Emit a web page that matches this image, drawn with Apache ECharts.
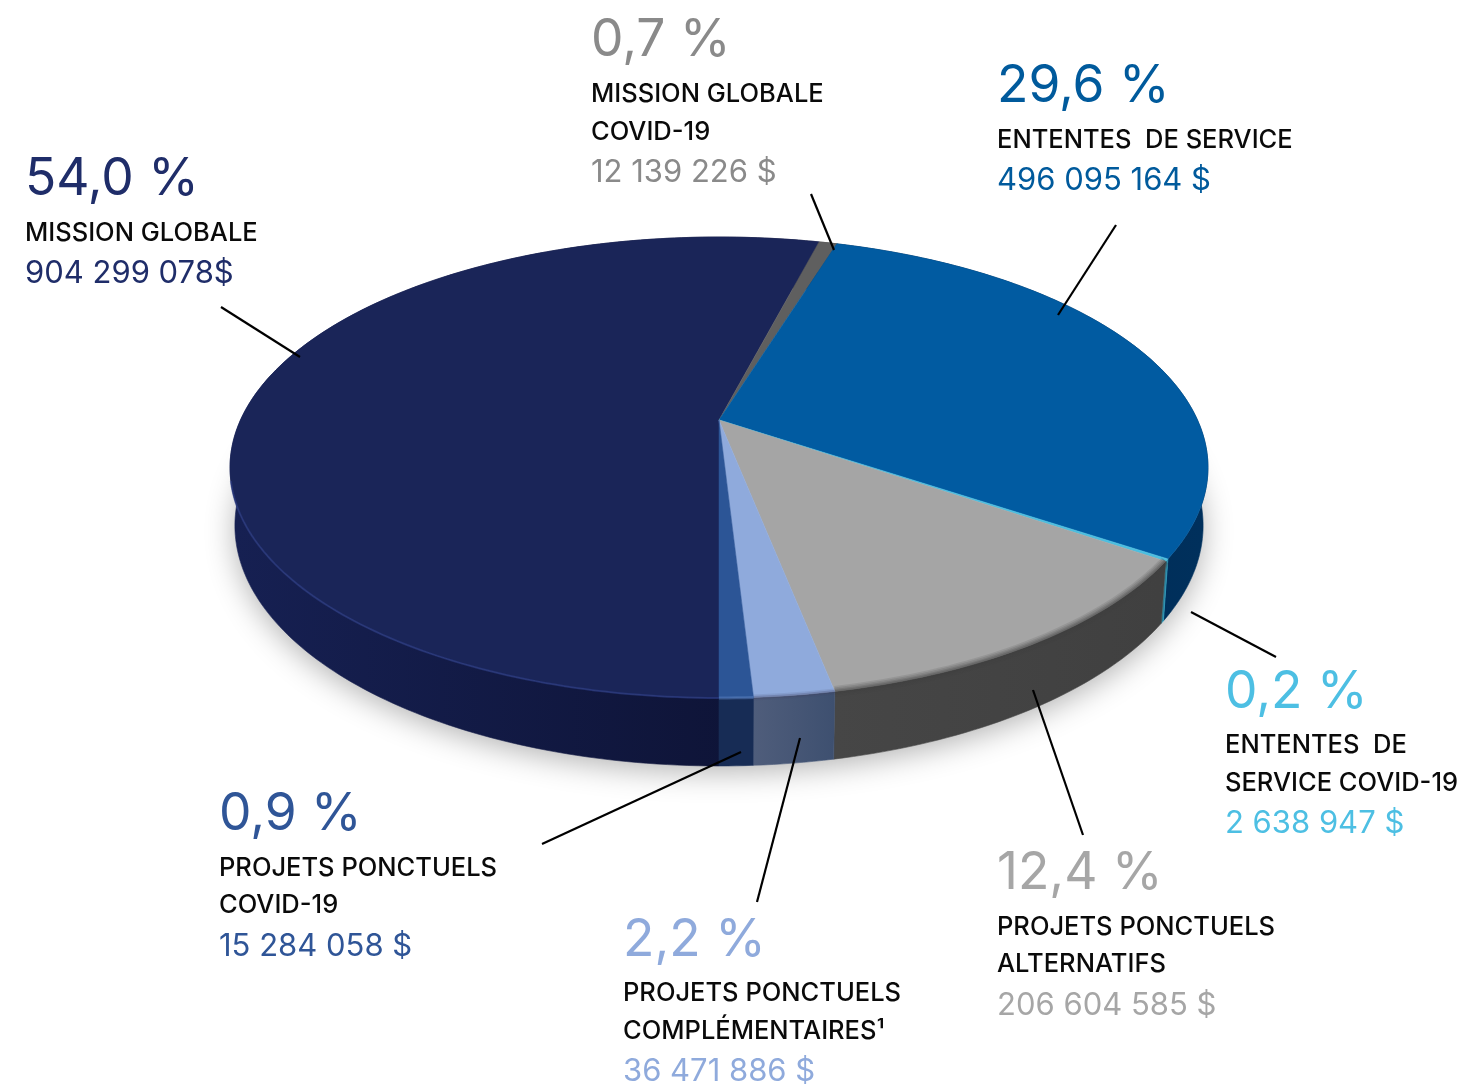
<!DOCTYPE html>
<html><head><meta charset="utf-8">
<style>html,body{margin:0;padding:0;background:#fff}#c{width:1480px;height:1085px;filter:blur(0.45px)}</style>
<script src="https://cdn.jsdelivr.net/npm/echarts@6/dist/echarts.min.js"></script>
</head><body><div id="c"></div>
<script>
// ---- data ----
const categories = ['MISSION GLOBALE','MISSION GLOBALE COVID-19','ENTENTES DE SERVICE','ENTENTES DE SERVICE COVID-19','PROJETS PONCTUELS ALTERNATIFS','PROJETS PONCTUELS COMPLÉMENTAIRES','PROJETS PONCTUELS COVID-19'];
const amounts = [904299078,12139226,496095164,2638947,206604585,36471886,15284058];
const percentLabels = ['54,0 %','0,7 %','29,6 %','0,2 %','12,4 %','2,2 %','0,9 %'];
const nameLines = [['MISSION GLOBALE'],['MISSION GLOBALE','COVID-19'],['ENTENTES  DE SERVICE'],['ENTENTES  DE','SERVICE COVID-19'],['PROJETS PONCTUELS','ALTERNATIFS'],['PROJETS PONCTUELS','COMPLÉMENTAIRES¹'],['PROJETS PONCTUELS','COVID-19']];
const amountLabels = ['904 299 078$','12 139 226 $','496 095 164 $','2 638 947 $','206 604 585 $','36 471 886 $','15 284 058 $'];

// ---- styling and layout ----
const FONT = 'Inter';
const topColors  = ['#1a2558','#5f5f5f','#015ba1','#4cbfe0','#a5a5a5','#8faadc','#2c5596'];
const textColors = ['#1f2d69','#8a8a8a','#005a9c','#4dbfe3','#a6a6a6','#8faadc','#2f5597'];
const sideStops  = [['#162052','#0d1233'],['#333333','#333333'],['#00284f','#00305c'],['#2b7f98','#2b7f98'],['#464646','#404040'],['#4f5d7b','#3e5070'],['#172c55','#172c55']];
const rimStyles = [
  [{c:'#2f4088',w:2,o:.6}], [], [],[],
  [{c:'#404040',w:11,o:.14},{c:'#404040',w:8,o:.18},{c:'#404040',w:5,o:.22},{c:'#404040',w:2.5,o:.25}],
  [{c:'#404060',w:6,o:.12},{c:'#404060',w:3,o:.25}],
  [{c:'#5a80c0',w:3,o:.5}]
];
const labelLayout = [
  {x:25,ys:[180,233,274]},
  {x:591,ys:[41,94,132,173]},
  {x:997,ys:[87,140,181]},
  {x:1225,ys:[693,745,783,824]},
  {x:997,ys:[874,927,964,1006]},
  {x:623,ys:[941,993,1031,1072]},
  {x:219,ys:[815,868,905,947]}
];
const leaderLines = [[221,307,300,357],[811,194,834,250],[1116,225,1058,315],[1191,612,1276,657],[1033,690,1083,835],[800,738,757,902],[741,752,542,844]];
// perspective disc: top face and lower face
const P = {x0:719,y0:420,A:478.5,B:220.7,k:0.206,sx:0.99,sy:1.043,c:38};
const total = amounts.reduce((a,b)=>a+b,0);
let acc = 0;
const startFrac = amounts.map(v=>{const s=acc/total;acc+=v;return s;});

function rimTop(theta){
  const u=-Math.sin(theta),v=Math.cos(theta),w=1-P.k*v;
  return [P.x0+P.A*u/w,P.y0+P.B*v/w];
}
function rimLow(theta){
  const p=rimTop(theta);
  return [P.x0+(p[0]-P.x0)*P.sx,p[1]*P.sy+P.c];
}
function arcAngles(i){
  const a0=startFrac[i]*2*Math.PI,a1=a0+amounts[i]/total*2*Math.PI;
  const n=Math.max(3,Math.ceil((a1-a0)/(Math.PI/180)));
  const out=[];
  for(let j=0;j<=n;j++)out.push(a0+(a1-a0)*j/n);
  return out;
}
function renderSide(params,api){
  const i=params.dataIndex;
  const ang=arcAngles(i);
  const top=ang.map(rimTop),low=ang.map(rimLow);
  const children=[];
  if(i===0){
    const ring=[];for(let d=0;d<360;d+=2)ring.push(rimLow(d*Math.PI/180));
    children.push({type:'polygon',shape:{points:ring},style:{fill:'#fff',shadowBlur:30,shadowColor:'rgba(0,0,0,.3)',shadowOffsetY:6}});
  }
  const xs=low.map(p=>p[0]);
  const x0=Math.min(...xs),x1=Math.max(...xs);
  const grad=new echarts.graphic.LinearGradient(x0,0,x1===x0?x0+1:x1,0,[{offset:0,color:sideStops[i][0]},{offset:1,color:sideStops[i][1]}],true);
  children.push({type:'polygon',shape:{points:top.concat(low.slice().reverse())},style:{fill:grad,stroke:i===3?'#2f9fc0':grad,lineWidth:i===3?.8:.6}});
  return {type:'group',children};
}
function renderTop(params,api){
  const i=params.dataIndex;
  const pts=[[P.x0,P.y0]].concat(arcAngles(i).map(rimTop));
  const children=[{type:'polygon',shape:{points:pts},style:{fill:topColors[i],stroke:topColors[i],lineWidth:.5}}];
  const front=arcAngles(i).filter(t=>Math.cos(t)>0.25).map(rimTop);
  if(front.length>1)rimStyles[i].forEach(r=>{
    children.push({type:'polyline',shape:{points:front},style:{fill:null,stroke:r.c,lineWidth:r.w,opacity:r.o}});
  });
  return {type:'group',children};
}
const graphics=[];
leaderLines.forEach(l=>graphics.push({type:'line',z:20,shape:{x1:l[0],y1:l[1],x2:l[2],y2:l[3]},style:{stroke:'#000',lineWidth:2.2}}));
categories.forEach((_,i)=>{
  const L=labelLayout[i];
  const t=(text,y,size,color,wt)=>graphics.push({type:'text',z:20,x:L.x,y,style:{text,fill:color,font:(wt||400)+' '+size+'px '+FONT,textAlign:'left',textVerticalAlign:'middle',verticalAlign:'middle'}});
  t(percentLabels[i],L.ys[0],51.5,textColors[i]);
  nameLines[i].forEach((s,k)=>t(s,L.ys[k+1],25.5,'#0a0a0a',500));
  t(amountLabels[i],L.ys[L.ys.length-1],31,textColors[i]);
});
const chart=echarts.init(document.getElementById('c'),null,{renderer:'canvas'});
const seriesData=amounts.map((v,i)=>({name:categories[i],value:v}));
chart.setOption({
  animation:false,backgroundColor:'#fff',
  series:[
    {type:'custom',coordinateSystem:'none',z:1,silent:true,data:seriesData,renderItem:renderSide},
    {type:'custom',coordinateSystem:'none',z:2,silent:true,data:seriesData,renderItem:renderTop}
  ],
  graphic:graphics
});
</script></body></html>
